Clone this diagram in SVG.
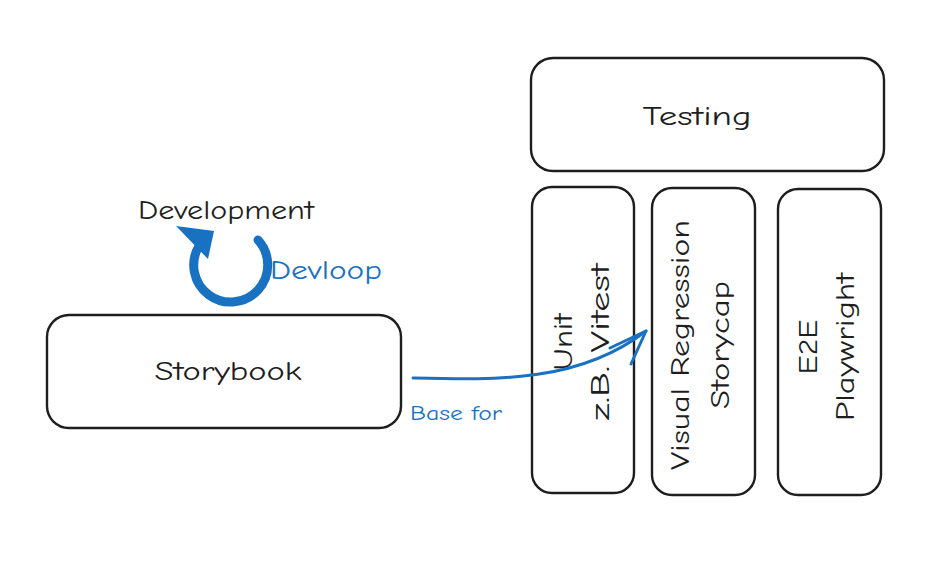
<svg xmlns="http://www.w3.org/2000/svg" width="947" height="575" viewBox="0 0 947 575">
<style>
.box{fill:#fff;stroke:#1e1e1e;stroke-width:2.4}
.t{font-family:"Comic Neue","Liberation Sans",sans-serif;font-size:27px;fill:#1e1e1e;text-anchor:middle;dominant-baseline:central}
.b{fill:#1971c2}
.bl{stroke:#1971c2;fill:none;stroke-linecap:round;stroke-linejoin:round}
</style>
<rect width="947" height="575" fill="#fff"/>
<g id="testing"><rect class="box" x="531" y="58" width="353" height="113" rx="22"/><text class="t" x="697" y="116" textLength="109" lengthAdjust="spacingAndGlyphs">Testing</text></g>
<g id="unit"><rect class="box" x="532" y="187" width="102" height="306" rx="20"/><text class="t" transform="translate(581,342) rotate(-90)"><tspan x="0" y="-18" textLength="57" lengthAdjust="spacingAndGlyphs">Unit</tspan><tspan x="0" y="19" textLength="157" lengthAdjust="spacingAndGlyphs">z.B. Vitest</tspan></text></g>
<g id="visual"><rect class="box" x="652" y="188" width="103" height="307" rx="20"/><text class="t" transform="translate(700,345) rotate(-90)"><tspan x="0" y="-20" textLength="250" lengthAdjust="spacingAndGlyphs">Visual Regression</tspan><tspan x="0" y="20" textLength="128" lengthAdjust="spacingAndGlyphs">Storycap</tspan></text></g>
<g id="e2e"><rect class="box" x="778" y="189" width="103" height="306" rx="20"/><text class="t" transform="translate(827,347) rotate(-90)"><tspan x="0" y="-19" textLength="55" lengthAdjust="spacingAndGlyphs">E2E</tspan><tspan x="0" y="18" textLength="148" lengthAdjust="spacingAndGlyphs">Playwright</tspan></text></g>
<g id="storybook"><rect class="box" x="47" y="315" width="354" height="113" rx="22"/><text class="t" x="228" y="371" textLength="147" lengthAdjust="spacingAndGlyphs">Storybook</text></g>
<g id="development"><text class="t" x="226" y="210" textLength="176" lengthAdjust="spacingAndGlyphs">Development</text></g>
<g id="devloop">
<path class="bl" stroke-width="9" d="M258,240 A37,37 0 1 1 199,246"/>
<polygon class="b" points="176,226 214,231 208,259"/>
<text class="t" x="326" y="270" style="fill:#1971c2" textLength="112" lengthAdjust="spacingAndGlyphs">Devloop</text>
</g>
<g id="connectors">
<path class="bl" stroke-width="3" d="M413,378 C500,380 580,382 646,331"/>
<path class="bl" stroke-width="3" d="M610,348 L646,331 L631,364"/>
<text class="t" x="456" y="413" style="fill:#1971c2;font-size:20px" textLength="92" lengthAdjust="spacingAndGlyphs">Base for</text>
</g>
</svg>
